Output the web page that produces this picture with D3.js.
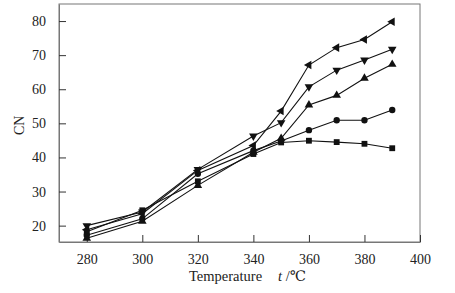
<!DOCTYPE html>
<html>
<head>
<meta charset="utf-8">
<script src="https://cdn.jsdelivr.net/npm/d3@7"></script>
<style>
  body { margin: 0; background: #fff; }
  text { font-family: "Liberation Serif", "DejaVu Serif", serif; }
</style>
</head>
<body>
<svg id="chart"></svg>
<script>
const temps = [280, 300, 320, 340, 350, 360, 370, 380, 390];
const xTicks = [280, 300, 320, 340, 360, 380, 400];
const yTicks = [20, 30, 40, 50, 60, 70, 80];

const cnSquare = [18.2, 24.5, 33.0, 41.0, 44.4, 44.9, 44.5, 44.0, 42.7];
const cnCircle = [17.2, 22.0, 35.2, 42.0, 44.8, 48.0, 50.9, 50.9, 53.9];
const cnUp = [16.3, 21.3, 31.8, 41.5, 45.6, 55.4, 58.2, 63.2, 67.3];
const cnDown = [20.0, 24.0, 36.5, 46.3, 50.2, 60.7, 65.6, 68.6, 71.7];
const cnLeft = [18.8, 23.5, 36.2, 43.5, 53.6, 67.1, 72.2, 74.6, 79.8];

const svg_width = 455, svg_height = 293;
const margin = { top: 4, right: 35, bottom: 51, left: 59 },
    width = svg_width - margin.left - margin.right,
    height = svg_height - margin.top - margin.bottom;

const svg = d3.select("#chart")
    .attr("width", svg_width)
    .attr("height", svg_height)
    .append("g")
    .attr("transform", `translate(${margin.left},${margin.top})`);

const x = d3.scaleLinear().range([0, width]).domain([270, 400]);
const y = d3.scaleLinear().range([height, 0]).domain([15.2, 85]);

// frame
svg.append("rect")
    .attr("width", width)
    .attr("height", height)
    .attr("fill", "none")
    .attr("stroke", "#777")
    .attr("stroke-width", 1);

const xAxis = svg.append("g")
    .attr("transform", `translate(0, ${height})`)
    .call(d3.axisBottom(x).tickValues(xTicks).tickSizeInner(-7).tickSizeOuter(0).tickPadding(12));
const yAxis = svg.append("g")
    .call(d3.axisLeft(y).tickValues(yTicks).tickSizeInner(-7).tickSizeOuter(0).tickPadding(13));

[xAxis, yAxis].forEach(a => {
    a.select(".domain").attr("stroke", "#777");
    a.selectAll(".tick line").attr("stroke", "#333");
    a.selectAll(".tick text")
        .attr("font-size", 14)
        .attr("font-family", "Liberation Serif")
        .attr("fill", "#222");
});

const xl = svg.append("text")
    .attr("x", width / 2 + 8)
    .attr("y", height + 39)
    .attr("text-anchor", "middle")
    .attr("font-size", 14.5)
    .attr("fill", "#222");
xl.append("tspan").text("Temperature");
xl.append("tspan").attr("dx", 16).attr("font-style", "italic").text("t");
xl.append("tspan").text(" /℃");

svg.append("text")
    .attr("transform", `translate(${-35},${y(50) + 2}) rotate(-90)`)
    .attr("text-anchor", "middle")
    .attr("font-size", 14)
    .attr("fill", "#222")
    .text("CN");

const series = [
    { values: cnSquare, symbol: d3.symbolSquare, size: 34, rot: 0 },
    { values: cnCircle, symbol: d3.symbolCircle, size: 32, rot: 0 },
    { values: cnUp, symbol: d3.symbolTriangle, size: 32, rot: 0 },
    { values: cnDown, symbol: d3.symbolTriangle, size: 32, rot: 180 },
    { values: cnLeft, symbol: d3.symbolTriangle, size: 32, rot: -90 }
];

const line = d3.line()
    .x(d => x(d[0]))
    .y(d => y(d[1]));

series.forEach(s => {
    const data = temps.map((t, i) => [t, s.values[i]]);
    svg.append("path")
        .datum(data)
        .attr("fill", "none")
        .attr("stroke", "#111")
        .attr("stroke-width", 1.1)
        .attr("d", line);
    svg.selectAll(null)
        .data(data)
        .enter()
        .append("path")
        .attr("d", d3.symbol().type(s.symbol).size(s.size))
        .attr("transform", d => `translate(${x(d[0])},${y(d[1])}) rotate(${s.rot})`)
        .attr("fill", "#111");
});
</script>
</body>
</html>
